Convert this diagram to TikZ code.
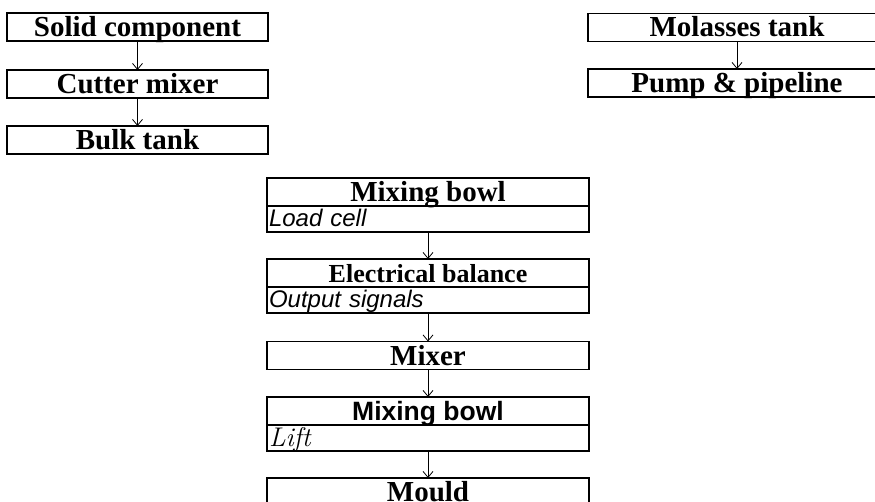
\documentclass[tikz,border=0pt]{standalone}
\usepackage{fontspec}
\setmainfont{Liberation Serif}
\newfontfamily\arialfont{Liberation Sans}
\newfontfamily\lmfont{Latin Modern Roman}
\usetikzlibrary{positioning, arrows.meta}

\begin{document}
\begin{tikzpicture}[x=1pt, y=-1pt,
  box/.style={draw, line width=1.6pt, outer sep=0pt, inner sep=0pt,
    minimum height=28pt, text height=19pt, text depth=0pt,
    font=\bfseries\fontsize{29}{30}\selectfont},
  subbox/.style={draw, line width=1.6pt, outer sep=0pt, inner ysep=0pt, inner xsep=2pt,
    minimum height=26pt, text width=318pt, align=left, text height=18pt, text depth=2pt,
    font=\arialfont\itshape\fontsize{24}{26}\selectfont},
  arr/.style={-{Straight Barb[length=6pt,width=10pt]}, line width=0.8pt}]
  \useasboundingbox (0,0) rectangle (875,502);
  % 왼쪽 열
  \node (sc) at (137.5,27)  [box, minimum width=261pt] {Solid component};
  \node (cm) at (137.5,84)  [box, minimum width=261pt] {Cutter mixer};
  \node (bt) at (137.5,140) [box, minimum width=261pt] {Bulk tank};
  % 오른쪽 열
  \node (mt) at (737,27.5)  [box, minimum width=298pt] {Molasses tank};
  \node (pp) at (737,83)    [box, minimum width=298pt] {Pump \& pipeline};
  % 가운데 열
  \node (mb) at (428,192)   [box, minimum width=322pt] {Mixing bowl};
  \node (lc) [subbox, below=0pt of mb] {Load cell};
  \node (eb) at (428,273)   [box, minimum width=322pt, font=\bfseries\fontsize{26}{28}\selectfont] {Electrical balance};
  \node (os) [subbox, below=0pt of eb] {Output signals};
  \node (mx) at (428,355.5) [box, minimum width=322pt] {Mixer};
  \node (mb2) at (428,411)  [box, minimum width=322pt, font=\arialfont\bfseries\fontsize{26.5}{28}\selectfont] {Mixing bowl};
  \node (lf) [subbox, below=0pt of mb2, font=\lmfont\itshape\fontsize{27}{28}\selectfont] {Lift};
  \node (md) at (428,492)   [box, minimum width=322pt] {Mould};
  % 화살표
  \draw[arr] (sc) -- (cm);
  \draw[arr] (cm) -- (bt);
  \draw[arr] (mt) -- (pp);
  \draw[arr] (lc) -- (eb);
  \draw[arr] (os) -- (mx);
  \draw[arr] (mx) -- (mb2);
  \draw[arr] (lf) -- (md);
\end{tikzpicture}
\end{document}
